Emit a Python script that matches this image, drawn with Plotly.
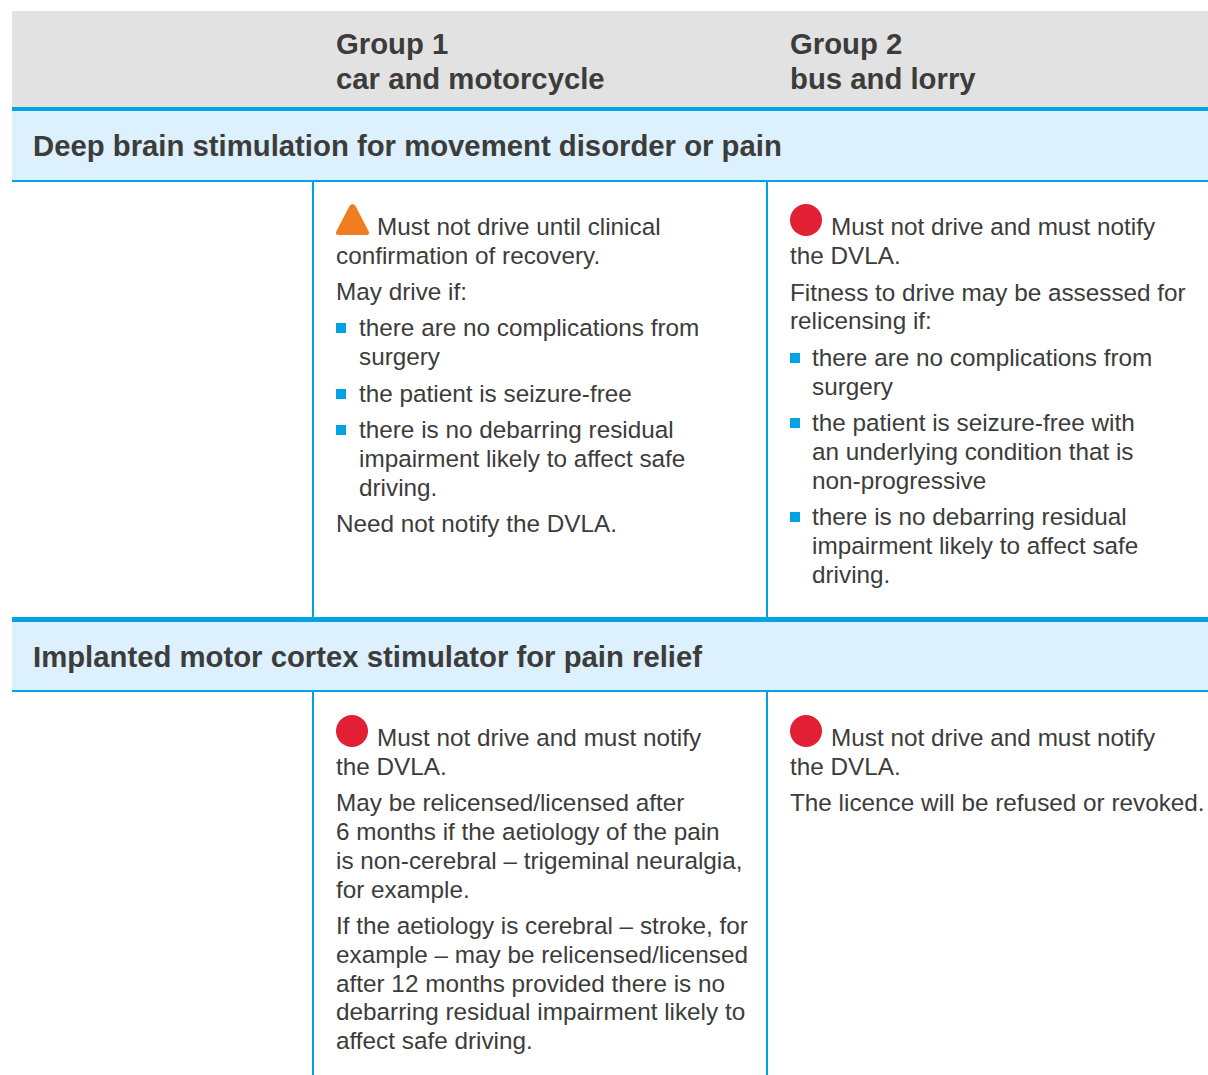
import plotly.graph_objects as go

W, H = 1208, 1075
FONT = "Liberation Sans, Arial, sans-serif"
INK = "#3c3c3b"
BLUE = "#00a3e4"
PALE = "#ddf0fd"
GREY = "#e2e2e2"
ORANGE = "#ee7d22"
BODY_SIZE = 24.3
HEAD_SIZE = 29.3

header_lines = ["Group 1", "car and motorcycle", "Group 2", "bus and lorry"]
header_x = [336, 336, 789.5, 789.5]
header_y = [43, 78, 43, 78]

section_titles = ["Deep brain stimulation for movement disorder or pain",
                  "Implanted motor cortex stimulator for pain relief"]
section_y = [145, 656]

body_lines = [
    "Must not drive until clinical", "confirmation of recovery.", "May drive if:",
    "there are no complications from", "surgery", "the patient is seizure-free",
    "there is no debarring residual", "impairment likely to affect safe", "driving.",
    "Need not notify the DVLA.",
    "Must not drive and must notify", "the DVLA.",
    "Fitness to drive may be assessed for", "relicensing if:",
    "there are no complications from", "surgery",
    "the patient is seizure-free with", "an underlying condition that is", "non-progressive",
    "there is no debarring residual", "impairment likely to affect safe", "driving.",
    "Must not drive and must notify", "the DVLA.",
    "May be relicensed/licensed after", "6 months if the aetiology of the pain",
    "is non-cerebral – trigeminal neuralgia,", "for example.",
    "If the aetiology is cerebral – stroke, for", "example – may be relicensed/licensed",
    "after 12 months provided there is no", "debarring residual impairment likely to",
    "affect safe driving.",
    "Must not drive and must notify", "the DVLA.", "The licence will be refused or revoked.",
]
body_x = [
    377, 335.5, 335.5, 358.5, 358.5, 358.5, 358.5, 358.5, 358.5, 335.5,
    831, 789.5, 789.5, 789.5, 812, 812, 812, 812, 812, 812, 812, 812,
    377, 335.5, 335.5, 335.5, 335.5, 335.5, 335.5, 335.5, 335.5, 335.5, 335.5,
    831, 789.5, 789.5,
]
body_y = [
    226, 255, 291, 327, 356, 393, 429, 458, 487, 523,
    226, 255, 292, 320, 357, 386, 422, 451, 480, 516, 545, 574,
    737, 766, 802, 831, 860, 889, 925, 954, 983, 1011, 1040,
    737, 766, 802,
]

bullet_x = [341, 341, 341, 795, 795, 795]
bullet_y = [328, 394, 430, 358, 423, 517]
stop_x = [806, 352, 806]
stop_y = [220, 731, 731]

fig = go.Figure()


def band(y0, y1, color, x0=12, x1=W):
    fig.add_shape(type="rect", x0=x0, x1=x1, y0=y0, y1=y1,
                  fillcolor=color, line_width=0, layer="below")


band(11, 107, GREY)
band(107, 111, BLUE)
band(111, 180, PALE)
band(180, 182, BLUE)
band(617, 622, BLUE)
band(622, 690, PALE)
band(690, 692, BLUE)
for vx in (312, 766):
    band(182, 617, BLUE, vx, vx + 2)
    band(692, H, BLUE, vx, vx + 2)

# warning icon: rounded triangle
fig.add_shape(type="path", xref="x", yref="y", fillcolor=ORANGE, line_width=0,
              path="M349.5,206 Q352.5,202 355.5,206 L368,230 Q371,235 366,235 "
                   "L339,235 Q334,235 337,230 Z")

fig.add_trace(go.Scatter(x=bullet_x, y=bullet_y, mode="markers", hoverinfo="skip",
                         marker=dict(symbol="square", size=10, color=BLUE, line_width=0)))
fig.add_trace(go.Scatter(x=stop_x, y=stop_y, mode="markers", hoverinfo="skip",
                         marker=dict(symbol="circle", size=32, color="#e31f33", line_width=0)))


def label(x, y, text, size, bold=False):
    fig.add_annotation(x=x, y=y, text=f"<b>{text}</b>" if bold else text, showarrow=False,
                       xanchor="left", yanchor="middle", xref="x", yref="y",
                       borderpad=0, borderwidth=0,
                       font=dict(family=FONT, size=size, color=INK))


for x, y, t in zip(header_x, header_y, header_lines):
    label(x, y, t, HEAD_SIZE, True)
for y, t in zip(section_y, section_titles):
    label(33, y, t, HEAD_SIZE, True)
for x, y, t in zip(body_x, body_y, body_lines):
    label(x, y, t, BODY_SIZE)

fig.update_layout(
    width=W, height=H, margin=dict(l=0, r=0, t=0, b=0),
    paper_bgcolor="white", plot_bgcolor="white", showlegend=False,
    xaxis=dict(range=[0, W], visible=False, fixedrange=True),
    yaxis=dict(range=[H, 0], visible=False, fixedrange=True),
)
fig.write_html("out.html", config={"displayModeBar": False},
               post_script="document.body.style.margin='0';")
